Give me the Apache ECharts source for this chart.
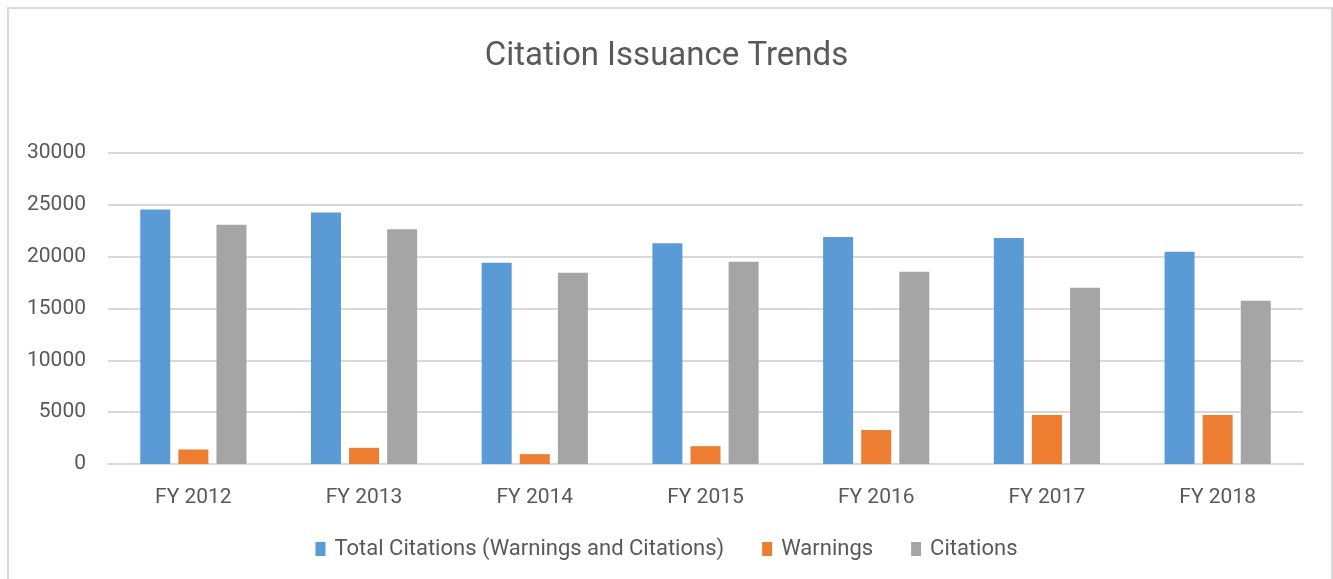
<!DOCTYPE html>
<html>
<head>
<meta charset="utf-8">
<script src="https://cdn.jsdelivr.net/npm/echarts@6/dist/echarts.min.js"></script>
<style>
  html, body { margin: 0; padding: 0; background: #fff; }
  #chart { width: 1333px; height: 579px; }
  #frame {
    position: absolute; left: 7px; top: 7px; width: 1322px; height: 600px;
    border: 2px solid #d9d9d9; pointer-events: none;
  }
</style>
</head>
<body>
<div id="chart"></div>
<div id="frame"></div>
<script>
const categories = ['FY 2012', 'FY 2013', 'FY 2014', 'FY 2015', 'FY 2016', 'FY 2017', 'FY 2018']
const totalCitations = [24540, 24250, 19420, 21290, 21900, 21810, 20480]
const warnings = [1400, 1560, 950, 1720, 3270, 4720, 4720]
const citations = [23090, 22640, 18450, 19510, 18550, 17000, 15740]

const textColor = '#595959'
const fontFamily = 'Roboto, "Open Sans", sans-serif'

const chart = echarts.init(document.getElementById('chart'))

const barStyle = (color) => ({
  type: 'bar',
  barWidth: 30,
  barGap: '27%',
  itemStyle: { color: color },
})

chart.setOption({
  animation: false,
  textStyle: { fontFamily: fontFamily },
  title: {
    text: 'Citation Issuance Trends',
    left: 'center',
    top: 35,
    textStyle: { color: textColor, fontSize: 33, fontWeight: 'normal', fontFamily: fontFamily },
  },
  grid: {
    left: 108,
    right: 30,
    top: 153,
    bottom: 115,
  },
  legend: {
    bottom: 14,
    left: 'center',
    itemWidth: 10,
    itemHeight: 14,
    itemGap: 38,
    icon: 'rect',
    textStyle: { color: textColor, fontSize: 22, fontFamily: fontFamily, padding: [0, 0, 0, 4] },
  },
  xAxis: {
    type: 'category',
    data: categories,
    axisTick: { show: false },
    axisLine: { lineStyle: { color: '#d9d9d9', width: 2 } },
    axisLabel: { color: textColor, fontSize: 21, margin: 23 },
  },
  yAxis: {
    type: 'value',
    min: 0,
    max: 30000,
    interval: 5000,
    axisLine: { show: false },
    axisTick: { show: false },
    axisLabel: { color: textColor, fontSize: 21, margin: 22, formatter: (v) => String(v) },
    splitLine: { lineStyle: { color: '#d9d9d9', width: 2 } },
  },
  series: [
    { ...barStyle('#5b9bd5'), name: 'Total Citations (Warnings and Citations)', data: totalCitations },
    { ...barStyle('#ed7d31'), name: 'Warnings', data: warnings },
    { ...barStyle('#a5a5a5'), name: 'Citations', data: citations },
  ],
})
</script>
</body>
</html>
